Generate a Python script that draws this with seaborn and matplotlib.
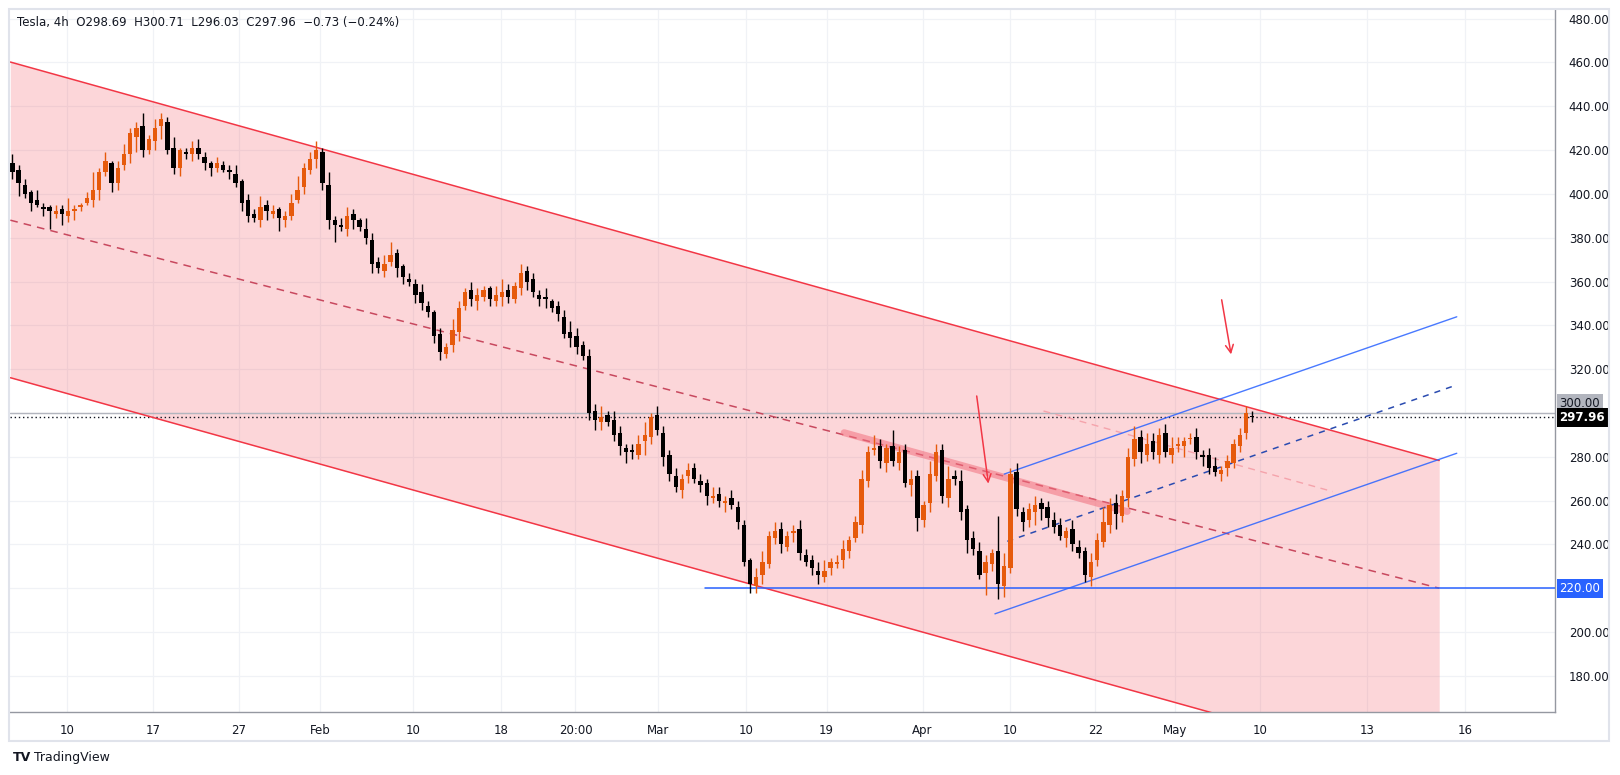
import numpy as np
import pandas as pd
import seaborn as sns
import matplotlib.pyplot as plt
from matplotlib.patches import Rectangle
sns.set_style("white")
plt.rcParams['font.family'] = 'DejaVu Sans'
# ============ data (4h candles) ============
closes = [410, 405, 400, 396, 395, 393, 392, 392, 391, 392,
          393, 395, 398, 402, 410, 415, 405, 412, 418, 428,
          430, 420, 425, 430, 434, 420, 412, 420, 418, 421,
          418, 414, 412, 414, 411, 410, 405, 396, 390, 389,
          394, 392, 392, 389, 390, 396, 402, 412, 416, 420,
          405, 388, 386, 385, 390, 388, 385, 380, 368, 366,
          368, 372, 366, 362, 360, 354, 350, 346, 335, 328,
          330, 338, 348, 355, 352, 354, 356, 352, 354, 355,
          353, 358, 364, 360, 355, 352, 352, 348, 345, 336,
          334, 330, 326, 300, 297, 298, 296, 290, 285, 282,
          282, 286, 290, 298, 292, 280, 272, 266, 270, 274,
          270, 267, 262, 262, 260, 260, 258, 250, 232, 222,
          225, 232, 244, 246, 240, 244, 246, 236, 232, 229,
          226, 228, 232, 232, 238, 242, 250, 270, 282, 284,
          278, 284, 278, 282, 268, 270, 252, 258, 272, 282,
          262, 270, 270, 255, 242, 238, 226, 232, 236, 222,
          230, 272, 256, 250, 256, 258, 256, 252, 248, 244,
          246, 240, 236, 226, 232, 242, 250, 258, 254, 262,
          280, 288, 282, 286, 282, 290, 282, 284, 286, 287,
          288, 282, 280, 275, 273, 274, 278, 286, 290, 300,
          297.96]
opens = [414, 411, 404, 401, 397, 394, 394, 391, 393, 390,
         392, 394, 396, 397, 402, 410, 414, 405, 413, 418,
         426, 431, 420, 424, 431, 433, 421, 412, 419, 418,
         421, 417, 414, 412, 413, 411, 409, 406, 397, 391,
         388, 395, 391, 393, 388, 390, 397, 403, 411, 416,
         419, 404, 388, 386, 384, 391, 388, 384, 379, 369,
         365, 369, 373, 367, 361, 359, 355, 349, 346, 336,
         327, 331, 337, 349, 356, 351, 353, 357, 351, 353,
         356, 352, 357, 365, 361, 354, 353, 351, 349, 344,
         337, 335, 331, 326, 301, 296, 299, 297, 291, 284,
         283, 281, 287, 289, 299, 291, 281, 271, 265, 271,
         275, 269, 268, 261, 263, 259, 261, 257, 249, 233,
         221, 226, 231, 243, 247, 239, 245, 247, 235, 233,
         228, 225, 229, 231, 233, 237, 243, 249, 269, 283,
         285, 277, 285, 277, 283, 267, 271, 251, 259, 271,
         283, 261, 271, 269, 256, 243, 237, 227, 231, 237,
         221, 229, 273, 255, 251, 255, 259, 257, 251, 249,
         243, 247, 239, 237, 225, 233, 241, 249, 259, 253,
         261, 279, 289, 281, 287, 281, 291, 281, 285, 285,
         288, 289, 281, 281, 276, 272, 275, 277, 285, 291,
         298.69]
wick_up = [4, 2, 3, 1, 5, 2, 1, 3, 2, 6, 2, 1, 3, 8, 2, 4, 1, 3, 5, 2,
           3, 6, 2, 4, 3, 2, 5, 1, 2, 3, 4, 2, 1, 3, 2, 2, 4, 1, 3, 2,
           5, 2, 3, 1, 2, 4, 6, 2, 3, 4, 2, 6, 2, 3, 4, 2, 1, 5, 3, 2,
           4, 6, 2, 1, 3, 2, 4, 2, 1, 3, 2, 5, 3, 2, 4, 3, 2, 1, 4, 6,
           3, 2, 4, 2, 3, 2, 4, 1, 2, 3, 5, 4, 2, 3, 3, 5, 2, 4, 3, 2,
           3, 4, 6, 2, 4, 3, 2, 4, 2, 3, 2, 3, 2, 4, 3, 2, 4, 3, 2, 1,
           4, 5, 2, 4, 3, 2, 3, 4, 3, 2, 4, 5, 2, 3, 4, 2, 3, 4, 3, 6,
           3, 2, 7, 3, 3, 4, 3, 2, 6, 4, 3, 6, 3, 5, 2, 3, 4, 3, 2, 16,
           6, 3, 4, 2, 3, 4, 2, 3, 4, 3, 2, 4, 3, 2, 4, 3, 7, 3, 4, 3,
           4, 6, 3, 5, 4, 3, 4, 5, 3, 2, 3, 4, 2, 3, 4, 2, 3, 2, 3, 3,
           2.02]
wick_dn = [3, 6, 2, 4, 1, 3, 8, 2, 5, 3, 4, 2, 1, 3, 5, 2, 4, 3, 2, 4,
           7, 3, 2, 4, 6, 2, 3, 4, 2, 3, 2, 3, 4, 2, 1, 3, 2, 4, 3, 2,
           3, 4, 2, 6, 3, 2, 1, 3, 2, 4, 3, 4, 8, 2, 3, 4, 2, 3, 4, 2,
           3, 2, 4, 3, 2, 4, 3, 2, 3, 4, 2, 3, 4, 2, 3, 4, 2, 3, 2, 4,
           3, 2, 3, 4, 2, 3, 4, 2, 3, 2, 4, 3, 2, 3, 5, 4, 2, 3, 4, 5,
           3, 2, 6, 3, 2, 4, 3, 2, 4, 3, 2, 3, 4, 2, 3, 4, 2, 3, 2, 4,
           3, 4, 2, 3, 4, 2, 4, 3, 2, 3, 4, 2, 3, 2, 4, 3, 2, 4, 3, 2,
           3, 4, 2, 3, 2, 5, 6, 3, 4, 2, 3, 4, 3, 4, 6, 3, 2, 10, 3, 7,
           5, 2, 3, 4, 3, 6, 5, 4, 3, 2, 4, 3, 2, 3, 4, 3, 2, 4, 7, 3,
           4, 3, 5, 3, 3, 4, 2, 4, 3, 5, 2, 3, 4, 3, 2, 3, 4, 2, 3, 3,
           1.93]
tick_px = [65, 148, 231, 310, 400, 485, 557, 637, 722, 800, 893, 978, 1060, 1137, 1220, 1323, 1418]
tick_labels = ['10', '17', '27', 'Feb', '10', '18', '20:00', 'Mar', '10', '19',
               'Apr', '10', '22', 'May', '10', '13', '16']
price_ticks = list(range(180, 481, 20))
# drawings: (pixel x, price) end points
red_upper = [(10, 460.2), (1393, 278.3)]
red_lower = [(10, 316.1), (1393, 134.2)]
red_mid = [(10, 388.0), (1393, 220.0)]
blue_upper = [(972, 272.1), (1410, 343.9)]
blue_lower = [(963, 208.3), (1410, 281.6)]
blue_mid = [(975, 241.4), (1410, 312.8)]
support = [(682, 220.0), (1505, 220.0)]
thick_res = [(817, 291.0), (1091, 255.0)]
faint_res = [(1010, 300.9), (1290, 264.1)]
arrows = [((945, 309.0), (957, 266.5)), ((1182, 352.9), (1192, 325.5))]
last_close = 297.96; last_high_line = 300.0

W, H = 1568.0, 750.0
def ix(px):
    return (px - 12) / 6.0

fig = plt.figure(figsize=(16.2, 7.75), dpi=100)
ax = fig.add_axes([10 / W, 1 - 689 / H, 1495 / W, 679 / H])
ax.set_xlim(ix(10), ix(1505)); ax.set_ylim(163.5, 483.8)
ax.set_facecolor('white')
# grid
for p in tick_px:
    ax.axvline(ix(p), color='#f0f2f6', lw=0.9, zorder=0)
for v in price_ticks:
    ax.axhline(v, color='#f0f2f6', lw=0.9, zorder=0)
# channel fill
xs = np.array([ix(red_upper[0][0]), ix(red_upper[1][0])])
ax.fill_between(xs, [red_lower[0][1], red_lower[1][1]], [red_upper[0][1], red_upper[1][1]],
                color='#f23645', alpha=0.2, lw=0, zorder=1)
def seg(pts, **kw):
    df = pd.DataFrame({'x': [ix(p[0]) for p in pts], 'y': [p[1] for p in pts]})
    sns.lineplot(data=df, x='x', y='y', ax=ax, sort=False, **kw)
seg(red_upper, color='#f23645', lw=1.1, zorder=3)
seg(red_lower, color='#f23645', lw=1.1, zorder=3)
seg(red_mid, color='#c8485e', lw=1.1, dashes=(5, 4), zorder=3)
seg(thick_res, color='#f2707e', lw=5, alpha=0.55, zorder=3)
seg(faint_res, color='#f5a3ab', lw=1, dashes=(5, 4), zorder=3)
seg(support, color='#2962ff', lw=1.1, zorder=3)
seg(blue_upper, color='#2962ff', lw=1, alpha=0.85, zorder=3)
seg(blue_lower, color='#2962ff', lw=1, alpha=0.85, zorder=3)
seg(blue_mid, color='#2a4bb0', lw=1.1, dashes=(4, 4), zorder=3)
for (a, b) in arrows:
    ax.annotate('', xy=(ix(b[0]), b[1]), xytext=(ix(a[0]), a[1]),
                arrowprops=dict(arrowstyle='->', color='#f23645', lw=1.1, mutation_scale=14), zorder=4)
ax.axhline(last_high_line, color='#b2b5be', lw=1, zorder=2)
ax.axhline(last_close, color='#131722', lw=1, ls=(0, (1, 2)), zorder=2)
# candles
up_c, dn_c = '#e65a0c', '#000000'
for i, (o, c, wu, wd) in enumerate(zip(opens, closes, wick_up, wick_dn)):
    col = up_c if c >= o else dn_c
    top, bot = max(o, c), min(o, c)
    ax.vlines(i, bot - wd, top + wu, color=col, lw=1, zorder=5)
    ax.add_patch(Rectangle((i - 0.35, bot), 0.7, max(top - bot, 0.6), color=col, lw=0, zorder=6))
# axes (300 and 220 labels are covered by the tags)
ax.set_xticks([ix(p) for p in tick_px]); ax.set_xticklabels(tick_labels)
ax.set_yticks(price_ticks)
ax.set_yticklabels(['' if v in (220, 300) else f'{v:.2f}' for v in price_ticks])
ax.yaxis.tick_right()
ax.tick_params(axis='both', length=0, labelsize=8.5, colors='#131722')
ax.tick_params(axis='y', pad=10); ax.tick_params(axis='x', pad=9)
for s in ['top', 'left']:
    ax.spines[s].set_visible(False)
for s in ['bottom', 'right']:
    ax.spines[s].set_color('#9598a1'); ax.spines[s].set_linewidth(1)
ax.set_xlabel(''); ax.set_ylabel('')
def tag(v, txt, bg, fg, bold=False):
    ax.text(1.003, v, txt, transform=ax.get_yaxis_transform(), ha='left', va='center',
            fontsize=8.5, color=fg, fontweight='bold' if bold else 'normal', zorder=10, clip_on=False,
            bbox=dict(boxstyle='square,pad=0.25', fc=bg, ec='none'))
tag(304.2, '300.00', '#b2b5be', '#131722')
tag(last_close, f'{last_close:.2f}', '#000000', 'white', bold=True)
tag(220.0, '220.00', '#2962ff', 'white')
# header, frame, logo
fig.text(16 / W, 1 - 22 / H, 'Tesla, 4h  O298.69  H300.71  L296.03  C297.96  \u22120.73 (\u22120.24%)',
         fontsize=8.5, color='#131722', va='center')
fig.patches.append(Rectangle((9 / W, 1 - 717 / H), 1548 / W, 708 / H, transform=fig.transFigure,
                             fill=False, ec='#e0e3eb', lw=1.5))
fig.text(12 / W, 1 - 733 / H, 'TV', fontsize=9, fontweight='black', color='#131722', va='center')
fig.text(33 / W, 1 - 733 / H, 'TradingView', fontsize=9, color='#131722', va='center')
fig.savefig('out.png', dpi=100)
